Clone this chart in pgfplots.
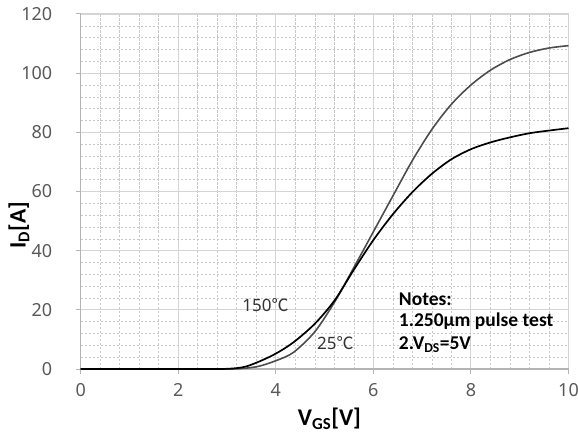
\documentclass[border=0pt]{standalone}
\usepackage{pgfplots}
\pgfplotsset{compat=1.18}
\usepackage{fontspec}
\setmainfont{Carlito}
\newfontfamily\cjk{Noto Sans CJK SC}
\newfontfamily\nsans{Noto Sans}
\definecolor{tickgray}{HTML}{595959}
\definecolor{gridmajor}{HTML}{D4D4D4}
\definecolor{gridminor}{HTML}{C8C8C8}
\definecolor{axisgray}{HTML}{B4B4B4}
\definecolor{c25}{HTML}{4D4D4D}
\definecolor{c150}{HTML}{000000}
\begin{document}
\begin{tikzpicture}
\begin{axis}[name=ax, scale only axis, width=487.8pt, height=355pt,
  xmin=0, xmax=10, ymin=0, ymax=120,
  xtick={0,2,...,10}, ytick={0,20,...,120},
  minor x tick num=4, minor y tick num=4,
  grid=both,
  major grid style={color=gridmajor, line width=1.1pt},
  minor grid style={color=gridminor, line width=0.6pt, dash pattern=on 2.5pt off 1.5pt},
  axis lines=left, axis line style={-, color=axisgray, line width=1.1pt},
  tick align=outside, major tick length=5pt, minor tick length=0pt,
  tick style={color=axisgray, line width=1pt},
  ticklabel style={font=\nsans\fontsize{18}{18}\selectfont, text=tickgray},
  yticklabel style={xshift=-20pt},
  xticklabel style={yshift=-6pt},
  /pgf/number format/assume math mode=true,
  clip=false,
]
\addplot[smooth, color=c25, line width=1.6pt] coordinates {
(0,0) (1,0) (2,0) (2.7,0) (3.1,0) (3.4,0.3) (3.67,1.0) (4,2.8) (4.36,5.6) (4.8,12.6)
(5.21,22.8) (5.59,34) (6,46.4) (6.4,58.5) (6.8,70.5) (7.2,81) (7.6,89.5) (8,96)
(8.4,101) (8.8,104.6) (9.2,107) (9.6,108.5) (10,109.3)};
\addplot[smooth, color=c150, line width=1.7pt] coordinates {
(0,0) (1,0) (2,0) (2.5,0) (2.9,0) (3.2,0.3) (3.4,0.9) (3.67,2.6) (4,5.2) (4.36,9) (4.8,15.3)
(5.21,23.3) (5.59,33.3) (6,43.6) (6.4,52.3) (6.8,59.8) (7.2,66) (7.6,70.9) (8,74.3)
(8.4,76.6) (8.8,78.3) (9.2,79.7) (9.6,80.6) (10,81.4)};
\node[font=\nsans\fontsize{17}{17}\selectfont, text=black!80] at (axis cs:3.79,21.6) {150{\cjk ℃}};
\node[font=\nsans\fontsize{17}{17}\selectfont, text=black!80] at (axis cs:5.22,8.9) {25{\cjk ℃}};
\node[anchor=west, inner sep=0pt, font=\bfseries\fontsize{19.5}{20}\selectfont] at (axis cs:6.52,23.6) {Notes:};
\node[anchor=west, inner sep=0pt, font=\bfseries\fontsize{19.5}{20}\selectfont] at (axis cs:6.52,16.0) {1.250μm pulse test};
\node[anchor=west, inner sep=0pt, font=\bfseries\fontsize{19.5}{20}\selectfont] at (axis cs:6.52,8.1) {2.V\textsubscript{DS}=5V};
\node[font=\bfseries\fontsize{24}{24}\selectfont] at (axis description cs:0.51,-0.141) {V\textsubscript{GS}[V]};
\node[rotate=90, font=\bfseries\fontsize{23.5}{24}\selectfont] at (axis description cs:-0.1265,0.4056) {I\textsubscript{D}[A]};
\end{axis}
\pgfresetboundingbox
\path[use as bounding box] ([xshift=-80.7pt,yshift=-70pt]ax.south west) rectangle ([xshift=9.5pt,yshift=14pt]ax.north east);
\end{tikzpicture}
\end{document}
